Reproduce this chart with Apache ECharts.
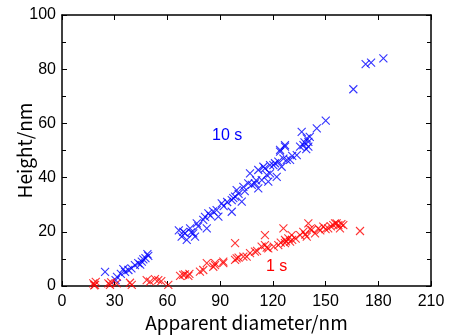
<!DOCTYPE html>
<html><head><meta charset="utf-8">
<script src="https://cdn.jsdelivr.net/npm/echarts@6/dist/echarts.min.js"></script>
<style>html,body{margin:0;padding:0;background:#fff}#c{width:451px;height:336px}</style>
</head><body><div id="c"></div>
<script>
const xTicks = [0, 30, 60, 90, 120, 150, 180, 210];
const yTicks = [0, 20, 40, 60, 80, 100];
const series10sName = '10 s';
const series1sName = '1 s';
const blue10s = [
[24.5,5.2],[30.5,2.2],[31.3,3.4],[33.5,4.5],[34.9,6.2],[35.9,5.2],[37.8,5.9],[39.5,6.5],[41.5,7.7],[43.4,8.4],[44.5,7.9],[45.4,9.0],[46.3,9.8],[47.5,10.3],[48.6,11.8],[49.1,11.1],
[66.5,20.5],[68.1,18.2],[69,20],[70,19.5],[71,17],[72.9,21.3],[73.5,19.8],[74.7,19.4],[75.7,18.2],[76.7,23.1],[77.5,22],[80.4,24.4],[81.4,25.5],[82.4,21.3],[83.3,26.8],[84.5,26],[86,27.5],[88,28],[89,25.6],[90.9,30.5],[92,29.5],[94,31],[96.6,31.7],[96.6,27.4],[97.5,32.4],[98.5,33],[99.4,35.4],[100.5,34],[102.3,31.1],[103.2,36.6],[104,35],[106,37.9],[107,41.6],[108,37.3],[109.8,37.9],[110.5,39],[111.7,36],[111.7,42.8],[113.7,39.1],[114.6,44],[115.5,43.4],[116.5,41],[117.4,38.5],[118.4,41.6],[118.4,44.6],[120.3,44.6],[121.2,45.3],[122.2,40.3],[123.1,45.9],[124.1,49.6],[124.1,50.2],[125,44],[126,47],[126.9,52],[126.9,51.4],[127.9,46.5],[129.8,46.5],[131,48],[133.6,48.3],[135.5,51.4],[136.4,56.9],[137.4,52],[138,53],[139.3,54.5],[140.2,53.2],[140.2,51.4],[139,50.5],[141,55],[145,58.2],[150.1,61],[165.8,72.6],[172.8,81.9],[175.9,82.4],[182.9,84]
];
const red1s = [
[17.8,1],[18.8,0.4],[19.2,1.5],[18.3,0.2],[26.4,1],[27.3,0.4],[28,1.3],[31.1,1],[38.7,1.2],[39.7,0.4],[48.2,2.2],[50.1,1.6],[52.9,2.5],[54.8,2.2],[56.5,1.8],[60.5,0.4],[67.2,3.7],[69,4.1],[70,4.3],[71.9,3.7],[72.5,4.5],[78.5,5.3],[80.4,5.9],[82.4,8.4],[86.1,7.1],[87.1,7.7],[87.1,8.4],[91.8,8.4],[91.8,9],[98.5,9.6],[99.4,10.2],[98.5,15.8],[100.5,10.5],[103.2,10.8],[105.1,10.8],[107,12.1],[109.8,12.7],[111,13],[113.6,14.5],[115.5,15.1],[115.5,18.8],[116.5,14.2],[117.4,13.9],[120.5,14.5],[123.1,15.1],[124.5,16],[126,21.3],[126.9,15.8],[126.9,17],[127.5,16.5],[128.8,17.6],[129.8,16.4],[130.7,18.8],[131,17],[133,17.5],[135.5,18.8],[137.3,20],[138.5,19],[139.3,18.2],[140.2,23.1],[141.1,21],[142.1,20.7],[144,19.4],[145.9,21.3],[147,20.5],[148.7,21.9],[150,21],[151.5,21.3],[153,22],[154.4,22.5],[155.4,23.1],[156.3,23.1],[157.3,22.5],[158.2,21.3],[159,22.8],[160.1,22.5],[169.6,20.3]
];

const chart = echarts.init(document.getElementById('c'), null, {renderer: 'canvas'});
const tickFont = {fontFamily: "'Liberation Sans', Arial, sans-serif", fontSize: 16, color: '#000'};
const titleFont = {fontFamily: "'Noto Sans CJK JP', sans-serif", fontSize: 19, color: '#000'};
const xSym = 'path://M0,0L10,10M10,0L0,10';
function baseX(pos, show) {
  return {
    type: 'value', position: pos, min: xTicks[0], max: xTicks[xTicks.length-1], interval: 30,
    axisLine: {show: true, onZero: false, lineStyle: {color: '#000', width: 1.5}},
    axisTick: {show: true, inside: true, length: 5, lineStyle: {color: '#000', width: 1}},
    minorTick: {show: false},
    splitLine: {show: false},
    axisLabel: show ? Object.assign({margin: 8}, tickFont) : {show: false},
    name: show ? 'Apparent diameter/nm' : '', nameLocation: 'middle', nameGap: 27,
    nameMoveOverlap: false,
    nameTextStyle: titleFont
  };
}
function baseY(pos, show) {
  return {
    type: 'value', position: pos, min: yTicks[0], max: yTicks[yTicks.length-1], interval: 20,
    axisLine: {show: true, onZero: false, lineStyle: {color: '#000', width: 1.5}},
    axisTick: {show: true, inside: true, length: 5, lineStyle: {color: '#000', width: 1}},
    minorTick: {show: true, splitNumber: 2, length: 4, lineStyle: {color: '#000', width: 1}},
    splitLine: {show: false},
    axisLabel: show ? Object.assign({margin: 6}, tickFont) : {show: false},
    name: show ? 'Height/nm' : '', nameLocation: 'middle', nameGap: 28,
    nameMoveOverlap: false,
    nameTextStyle: titleFont
  };
}
chart.setOption({
  animation: false,
  backgroundColor: '#fff',
  grid: {left: 62, right: 20, top: 15, bottom: 50, containLabel: false, outerBoundsMode: 'none'},
  xAxis: [baseX('bottom', true), baseX('top', false)],
  yAxis: [baseY('left', true), baseY('right', false)],
  series: [
    {name: series10sName, type: 'scatter', xAxisIndex: 0, yAxisIndex: 0, data: blue10s,
     symbol: xSym, symbolSize: 8,
     itemStyle: {color: 'rgba(0,0,0,0)', borderColor: '#0000ff', borderWidth: 1.1}},
    {name: series1sName, type: 'scatter', xAxisIndex: 0, yAxisIndex: 0, data: red1s,
     symbol: xSym, symbolSize: 8,
     itemStyle: {color: 'rgba(0,0,0,0)', borderColor: '#ff0000', borderWidth: 1.1}}
  ],
  graphic: [
    {type: 'text', left: 212, top: 128, style: {text: series10sName, fill: '#0000ff', font: "16px 'Liberation Sans', Arial, sans-serif"}},
    {type: 'text', left: 266, top: 259, style: {text: series1sName, fill: '#ff0000', font: "16px 'Liberation Sans', Arial, sans-serif"}}
  ]
});
</script></body></html>
